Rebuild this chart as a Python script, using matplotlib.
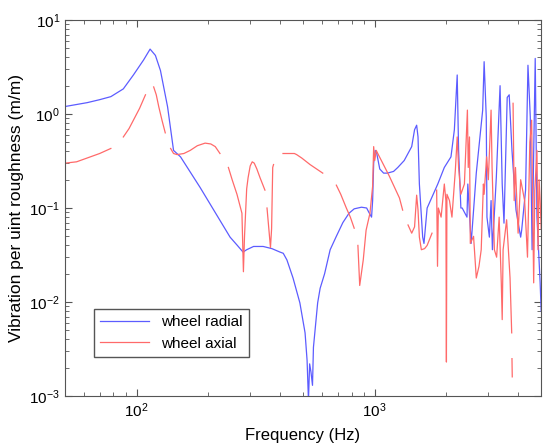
import numpy as np
import matplotlib
matplotlib.use('Agg')
import matplotlib.pyplot as plt

nan = np.nan

# wheel radial (blue)
radial_freq = [50, 62, 70, 78, 88, 97, 107, 114, 120, 126, 135, 143, 153, 185, 247, 265,
               280, 290, 310, 340, 370, 400, 413, 428, 454, 485, 510, 520, 527, 533, 540,
               548, 553, 576, 590, 616, 650, 690, 735, 780, 820, 880, 925, 945, 970, 980,
               990, 1005, 1020, 1050, 1090, 1130, 1200, 1250, 1330, 1430, 1470, 1500, 1520,
               1540, 1590, 1610, 1660, 1840, 1960, 2090, 2160, 2220, 2250, 2300, 2330,
               2440, 2460, 2540, 2670, 2840, 2880, 2940, 2960, 3030, 3080, 3120, 3240,
               3360, 3430, 3490, 3600, 3670, 3770, 3920, 4100, 4140, 4300, 4400, 4500,
               4580, 4720, 4800, 4950, 5000]
radial_amp = [1.2, 1.32, 1.42, 1.53, 1.85, 2.6, 3.75, 4.9, 4.2, 2.9, 1.19, 0.41, 0.35,
              0.165, 0.049, 0.04, 0.034, 0.036, 0.039, 0.039, 0.037, 0.034, 0.033, 0.028,
              0.018, 0.0098, 0.0047, 0.0024, 0.0009, 0.0022, 0.0018, 0.0013, 0.0033,
              0.0098, 0.014, 0.02, 0.036, 0.05, 0.07, 0.088, 0.098, 0.102, 0.10, 0.09,
              0.08, 0.12, 0.3, 0.41, 0.38, 0.26, 0.235, 0.235, 0.245, 0.27, 0.32, 0.45,
              0.68, 0.76, 0.57, 0.18, 0.049, 0.042, 0.10, 0.18, 0.27, 0.35, 0.68, 2.6,
              0.41, 0.10, 0.10, 0.08, 0.18, 0.042, 0.236, 1.1, 3.6, 0.93, 0.08, 0.049,
              0.12, 0.036, 0.21, 2.0, 0.18, 0.069, 1.5, 1.6, 0.41, 0.095, 0.049, 0.058,
              0.155, 3.3, 0.93, 0.036, 3.9, 0.08, 0.016, 0.008]

# wheel axial (red), gaps kept as NaN
axial_freq = [50, 56, 62, 70, 78, nan, 88, 93, 97, 103, 109, nan, 118, 121, 124, 128, 132,
              nan, 139, 143, 148, 158, 168, 180, 194, 205, 214, 224, nan, 243, 252, 264,
              277, 281, 284, 290, 294, 300, 306, 312, 320, 330, 346, nan, 353, 365, 369,
              373, 376, nan, 412, 460, 470, 494, 535, 570, 605, nan, 690, 720, 760, 790,
              820, nan, 850, 865, 895, 920, 955, 980, 990, 1000, 1015, 1030, 1080, 1150,
              1270, 1310, nan, 1380, 1430, 1470, 1500, 1520, 1540, 1570, 1620, 1660, 1740,
              nan, 1820, 1835, 1850, 1900, 1960, 1990, 2000, 2010, 2060, 2110, 2180, 2220,
              2250, 2300, 2380, 2450, 2470, 2500, 2520, 2600, 2670, 2740, 2800, 2860,
              2880, 2950, 3000, 3080, 3110, 3180, 3250, 3330, 3400, 3430, 3460, 3580,
              3640, 3700, 3760, nan, 3770, 3780, nan, 3810, 3850, 3900, 4000, 4100, 4260,
              4380, 4480, 4560, 4600, 4650, 4700, 4800, 4850, 4900, 4950, 5000]
axial_amp = [0.30, 0.31, 0.34, 0.38, 0.43, nan, 0.57, 0.7, 0.86, 1.15, 1.6, nan, 1.94, 1.6,
             1.19, 0.85, 0.63, nan, 0.43, 0.38, 0.37, 0.38, 0.41, 0.46, 0.49, 0.48, 0.45,
             0.38, nan, 0.27, 0.2, 0.14, 0.088, 0.021, 0.05, 0.16, 0.21, 0.28, 0.31, 0.3,
             0.26, 0.21, 0.155, nan, 0.10, 0.038, 0.06, 0.27, 0.29, nan, 0.38, 0.38, 0.37,
             0.34, 0.29, 0.26, 0.235, nan, 0.175, 0.14, 0.10, 0.08, 0.061, nan, 0.04,
             0.015, 0.028, 0.058, 0.088, 0.17, 0.45, 0.32, 0.41, 0.38, 0.3, 0.22, 0.128,
             0.095, nan, 0.066, 0.054, 0.063, 0.137, 0.095, 0.049, 0.036, 0.037, 0.04,
             0.054, nan, 0.155, 0.024, 0.10, 0.08, 0.18, 0.12, 0.0023, 0.14, 0.12, 0.08,
             0.25, 0.57, 0.27, 0.14, 0.18, 1.1, 0.27, 0.57, 0.042, 0.05, 0.018, 0.024,
             0.036, 0.18, 0.14, 0.35, 0.2, 1.1, 0.27, 0.036, 0.03, 0.08, 0.016, 0.0065,
             0.036, 0.075, 0.036, 0.018, 0.0047, nan, 0.0025, 0.0016, nan, 1.3, 0.12,
             0.27, 0.054, 0.2, 0.12, 0.03, 0.5, 0.86, 0.12, 0.016, 0.155, 0.41, 0.036,
             0.2, 0.12, 0.06]

plt.rcParams['font.family'] = ['Liberation Sans', 'DejaVu Sans']
plt.rcParams['mathtext.fontset'] = 'custom'
plt.rcParams['mathtext.rm'] = 'Liberation Sans'
plt.rcParams['mathtext.it'] = 'Liberation Sans'

fig = plt.figure(figsize=(5.45, 4.44), dpi=100)
ax = fig.add_axes([0.119, 0.108, 0.874, 0.847])

ax.loglog(radial_freq, radial_amp, color='#5c5cff', lw=0.9, label='wheel radial')
ax.loglog(axial_freq, axial_amp, color='#ff6a6a', lw=0.9, label='wheel axial')

ax.set_xlim(50, 5000)
ax.set_ylim(1e-3, 10)
ax.set_xlabel('Frequency (Hz)', fontsize=12, labelpad=6)
ax.set_ylabel('Vibration per uint roughness (m/m)', fontsize=12.5)

ax.tick_params(which='both', direction='in', top=True, right=True, labelsize=11,
               color='#555555')
ax.tick_params(which='major', length=5)
ax.tick_params(which='minor', length=3)
for s in ax.spines.values():
    s.set_color('#555555')
    s.set_linewidth(0.8)

ax.legend(loc='lower left', bbox_to_anchor=(0.061, 0.104), borderaxespad=0,
          fancybox=False, edgecolor='#555555', fontsize=11, handlelength=3.2,
          framealpha=1)

plt.savefig('out.png', dpi=100)
plt.close(fig)
